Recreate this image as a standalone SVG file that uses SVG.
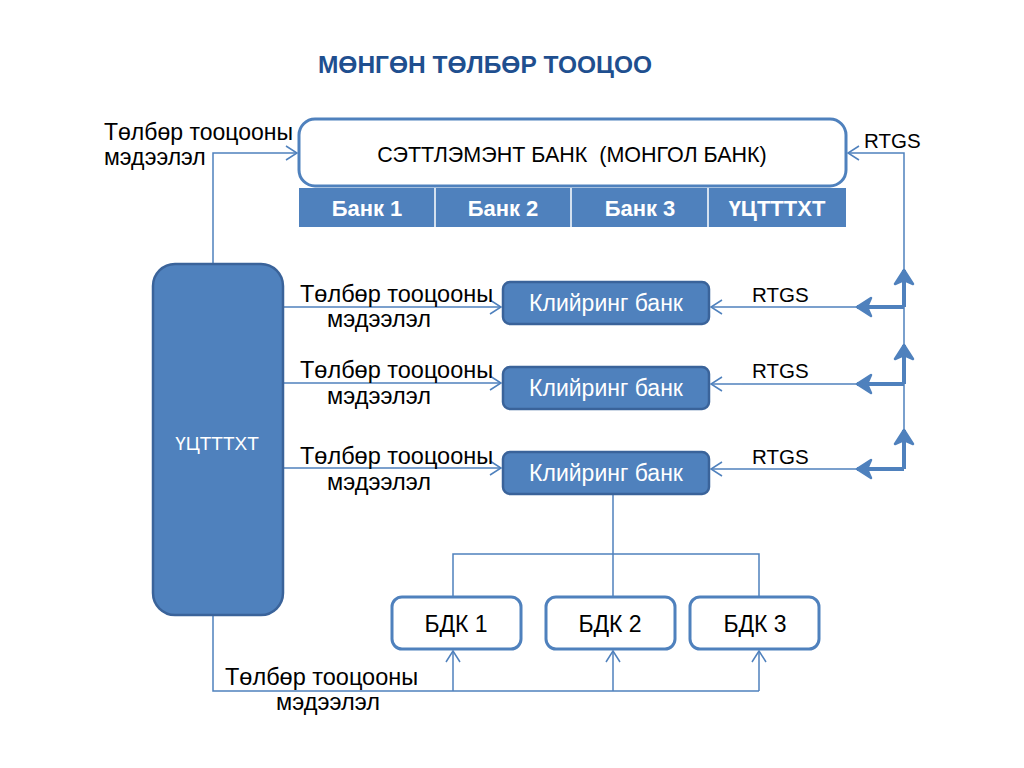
<svg xmlns="http://www.w3.org/2000/svg" width="1024" height="768" viewBox="0 0 1024 768">
<defs>
<style>
.t{font-family:"Liberation Sans",Arial,sans-serif;fill:#000}
.w{font-family:"Liberation Sans",Arial,sans-serif;fill:#fff}
.ob{fill:#fff;stroke:#4f81bd;stroke-width:3}
.fb{fill:#4f81bd;stroke:#3a639a;stroke-width:2.5}
.ln{fill:none;stroke:#4f81bd;stroke-width:1.5}
.tk{fill:none;stroke:#4f81bd;stroke-width:4;stroke-linejoin:round}
</style>
<marker id="a" markerUnits="userSpaceOnUse" markerWidth="14" markerHeight="16" viewBox="0 0 14 16" refX="12" refY="8" orient="auto">
<path d="M1,1 L12,8 L1,15" fill="none" stroke="#4f81bd" stroke-width="1.5"/>
</marker>
<marker id="b" markerUnits="userSpaceOnUse" markerWidth="20" markerHeight="22" viewBox="0 0 20 22" refX="17" refY="11" orient="auto">
<path d="M3,2 L17,11 L3,20 L7,11 Z" fill="#4f81bd" stroke="#4f81bd" stroke-width="2.5" stroke-linejoin="round"/>
</marker>
</defs>
<rect width="1024" height="768" fill="#fff"/>

<text x="485" y="73" text-anchor="middle" font-family="Liberation Sans,Arial,sans-serif" font-weight="bold" font-size="24.5" fill="#1f4f8f">МӨНГӨН ТӨЛБӨР ТООЦОО</text>

<g id="connectors">
<path class="ln" d="M213,264 V153 H297" marker-end="url(#a)"/>
<path class="ln" d="M904,469 V153 H848" marker-end="url(#a)"/>
<path class="ln" d="M904,307 H711" marker-end="url(#a)"/>
<path class="ln" d="M904,384 H711" marker-end="url(#a)"/>
<path class="ln" d="M904,469 H711" marker-end="url(#a)"/>
<path class="tk" d="M904,307 H857" marker-end="url(#b)"/>
<path class="tk" d="M904,307 V270" marker-end="url(#b)"/>
<path class="tk" d="M904,384 H857" marker-end="url(#b)"/>
<path class="tk" d="M904,384 V345" marker-end="url(#b)"/>
<path class="tk" d="M904,469 H857" marker-end="url(#b)"/>
<path class="tk" d="M904,469 V430" marker-end="url(#b)"/>
<path class="ln" d="M283,307 H501" marker-end="url(#a)"/>
<path class="ln" d="M283,383 H501" marker-end="url(#a)"/>
<path class="ln" d="M283,468 H501" marker-end="url(#a)"/>
<path class="ln" d="M613,495 V597"/>
<path class="ln" d="M453,597 V554 H759 V597"/>
<path class="ln" d="M213,615 V691 H759"/>
<path class="ln" d="M453,691 V651" marker-end="url(#a)"/>
<path class="ln" d="M613,691 V651" marker-end="url(#a)"/>
<path class="ln" d="M759,691 V651" marker-end="url(#a)"/>
</g>

<g id="settlement">
<rect class="ob" x="299" y="119" width="547" height="67" rx="16"/>
<text class="t" x="572" y="162" text-anchor="middle" font-size="21.5" xml:space="preserve">СЭТТЛЭМЭНТ БАНК  (МОНГОЛ БАНК)</text>
</g>

<g id="bank-row">
<rect x="299" y="188" width="547" height="39" fill="#4f81bd"/>
<path d="M435,188 V227 M571,188 V227 M708,188 V227" stroke="#fff" stroke-width="1.5"/>
<text class="w" x="367" y="216" text-anchor="middle" font-size="22" font-weight="bold">Банк 1</text>
<text class="w" x="503" y="216" text-anchor="middle" font-size="22" font-weight="bold">Банк 2</text>
<text class="w" x="640" y="216" text-anchor="middle" font-size="22" font-weight="bold">Банк 3</text>
<text class="w" x="777" y="216" text-anchor="middle" font-size="22" font-weight="bold">ҮЦТТТХТ</text>
</g>

<g id="uctttxt">
<rect class="fb" x="153" y="264" width="130" height="351" rx="22"/>
<text class="w" x="217" y="450" text-anchor="middle" font-size="19">ҮЦТТТХТ</text>
</g>

<g id="clearing1">
<rect class="fb" x="503" y="282" width="206" height="42" rx="7"/>
<text class="w" x="606" y="311" text-anchor="middle" font-size="23">Клийринг банк</text>
</g>
<g id="clearing2">
<rect class="fb" x="503" y="367" width="206" height="42" rx="7"/>
<text class="w" x="606" y="396" text-anchor="middle" font-size="23">Клийринг банк</text>
</g>
<g id="clearing3">
<rect class="fb" x="503" y="452" width="206" height="42" rx="7"/>
<text class="w" x="606" y="481" text-anchor="middle" font-size="23">Клийринг банк</text>
</g>

<g id="bdk1">
<rect class="ob" x="392" y="597" width="129" height="52" rx="10"/>
<text class="t" x="456" y="632" text-anchor="middle" font-size="23">БДК 1</text>
</g>
<g id="bdk2">
<rect class="ob" x="546" y="597" width="129" height="52" rx="10"/>
<text class="t" x="610" y="632" text-anchor="middle" font-size="23">БДК 2</text>
</g>
<g id="bdk3">
<rect class="ob" x="690" y="597" width="129" height="52" rx="10"/>
<text class="t" x="755" y="632" text-anchor="middle" font-size="23">БДК 3</text>
</g>

<g id="labels">
<text class="t" x="104" y="140" font-size="23">Төлбөр тооцооны</text>
<text class="t" x="104" y="165" font-size="23">мэдээлэл</text>
<text class="t" x="864" y="148" font-size="20.5">RTGS</text>
<text class="t" x="300" y="302" font-size="23.5">Төлбөр тооцооны</text>
<text class="t" x="327" y="327" font-size="23.5">мэдээлэл</text>
<text class="t" x="300" y="378" font-size="23.5">Төлбөр тооцооны</text>
<text class="t" x="327" y="404" font-size="23.5">мэдээлэл</text>
<text class="t" x="300" y="464" font-size="23.5">Төлбөр тооцооны</text>
<text class="t" x="327" y="490" font-size="23.5">мэдээлэл</text>
<text class="t" x="752" y="302" font-size="20.5">RTGS</text>
<text class="t" x="752" y="378" font-size="20.5">RTGS</text>
<text class="t" x="752" y="464" font-size="20.5">RTGS</text>
<text class="t" x="225" y="685" font-size="23.5">Төлбөр тооцооны</text>
<text class="t" x="276" y="710" font-size="23.5">мэдээлэл</text>
</g>
</svg>
